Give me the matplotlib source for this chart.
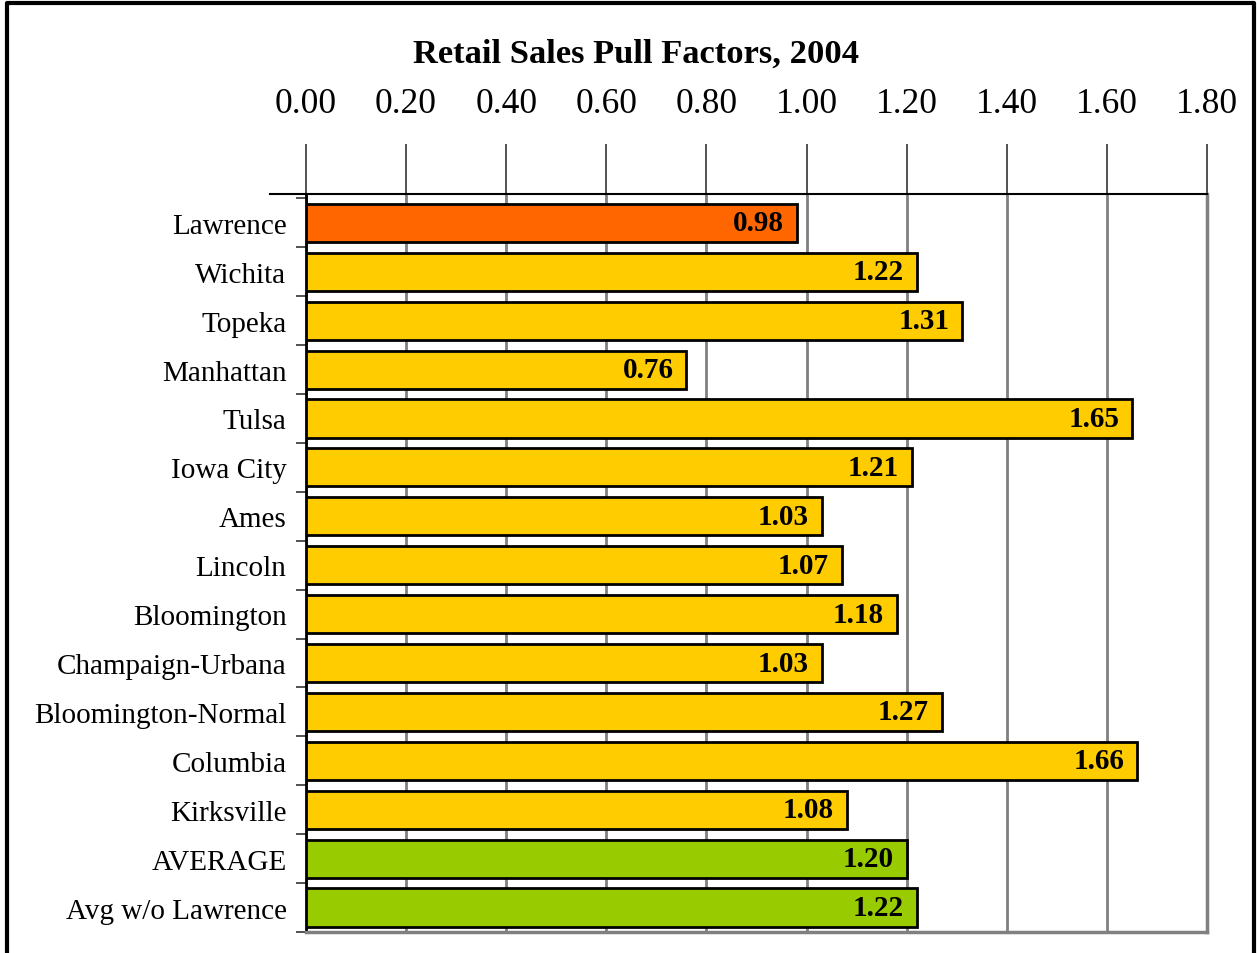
import matplotlib.pyplot as plt
from matplotlib.lines import Line2D

plt.rcParams['font.family'] = ['Liberation Serif', 'DejaVu Serif']

cities = ['Lawrence', 'Wichita', 'Topeka', 'Manhattan', 'Tulsa', 'Iowa City', 'Ames',
          'Lincoln', 'Bloomington', 'Champaign-Urbana', 'Bloomington-Normal',
          'Columbia', 'Kirksville', 'AVERAGE', 'Avg w/o Lawrence']
pull = [0.98, 1.22, 1.31, 0.76, 1.65, 1.21, 1.03, 1.07, 1.18, 1.03, 1.27, 1.66, 1.08, 1.20, 1.22]
groups = ['home'] + ['peer'] * 12 + ['avg'] * 2
xticks = [0.0, 0.2, 0.4, 0.6, 0.8, 1.0, 1.2, 1.4, 1.6, 1.8]

group_colors = {'home': '#FF6600', 'peer': '#FFCC00', 'avg': '#99CC00'}

W, H = 1257, 954
fig = plt.figure(figsize=(W / 100, H / 100), dpi=100)
ax = fig.add_axes([306 / W, 1 - 933 / H, (1207 - 306) / W, (933 - 195) / H])

ypos = list(range(len(cities)))
ax.barh(ypos, pull, height=0.78, color=[group_colors[g] for g in groups],
        edgecolor='black', linewidth=2, zorder=3)

for y, v in zip(ypos, pull):
    ax.annotate(f'{v:.2f}', xy=(v, y), xytext=(-9, 0), textcoords='offset points',
                ha='right', va='center', fontsize=21, fontweight='bold', zorder=4)

ax.set_xlim(0, 1.8)
ax.set_ylim(len(cities) - 0.5, -0.59)

# x axis on top with long tick marks
ax.xaxis.tick_top()
ax.set_xticks(xticks)
ax.set_xticklabels([f'{t:.2f}' for t in xticks], fontsize=25.5)
ax.tick_params(axis='x', length=36, width=1.2, color='#333333', pad=17)
ax.grid(axis='x', color='#808080', linewidth=2, zorder=0)

# category labels, ticks on the boundaries
ax.set_yticks(ypos)
ax.set_yticklabels(cities, fontsize=21)
ax.tick_params(axis='y', length=0, pad=14)
ax.set_yticks([i - 0.5 for i in range(len(cities) + 1)], minor=True)
ax.tick_params(axis='y', which='minor', length=7, width=1.2, color='#333333')

for side in ['right', 'bottom']:
    ax.spines[side].set_color('#808080')
    ax.spines[side].set_linewidth(2.5)
ax.spines['left'].set_color('black')
ax.spines['left'].set_linewidth(2)
ax.spines['top'].set_color('black')
ax.spines['top'].set_linewidth(1.5)

# top spine reaches out to the left past the labels
ax.add_line(Line2D([(270 - 306) / (1207 - 306), 0], [1, 1], transform=ax.transAxes,
                   color='black', linewidth=1.5, clip_on=False))

fig.text(636 / W, 1 - 54 / H, 'Retail Sales Pull Factors, 2004', ha='center', va='center',
         fontsize=24.8, fontweight='bold')

# outer frame (bottom edge cut off)
fig.add_artist(Line2D([7 / W, 7 / W, 1254 / W, 1254 / W], [0, 1 - 4 / H, 1 - 4 / H, 0],
                      transform=fig.transFigure, color='black', linewidth=3))

fig.savefig('out.png', dpi=100)
